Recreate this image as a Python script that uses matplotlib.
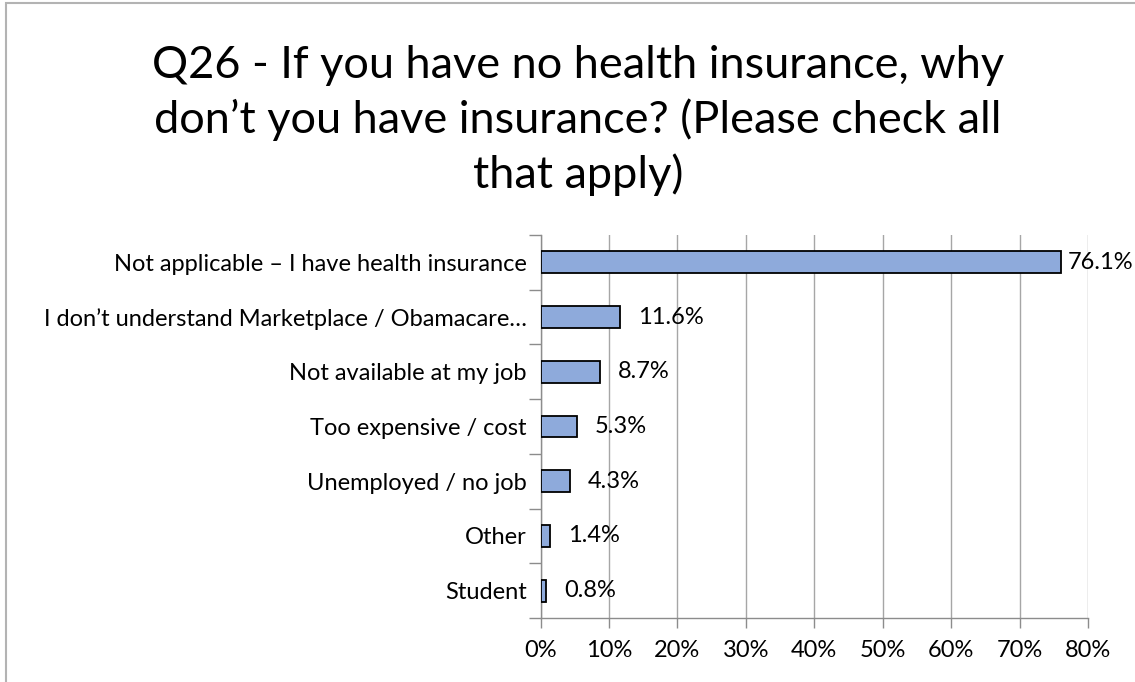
import matplotlib
matplotlib.use("Agg")
import matplotlib.pyplot as plt
from matplotlib.patches import Rectangle
import numpy as np

# Survey responses (share of respondents)
categories = [
    "Not applicable \u2013 I have health insurance",
    "I don\u2019t understand Marketplace / Obamacare\u2026",
    "Not available at my job",
    "Too expensive / cost",
    "Unemployed / no job",
    "Other",
    "Student",
]
shares = [76.1, 11.6, 8.7, 5.3, 4.3, 1.4, 0.8]
x_ticks = [0, 10, 20, 30, 40, 50, 60, 70, 80]
title_lines = [
    "Q26 - If you have no health insurance, why",
    "don\u2019t you have insurance? (Please check all",
    "that apply)",
]

FONT = "Lato"
FS = 17
W, H = 1135, 682
fig = plt.figure(figsize=(W / 100, H / 100), dpi=100)
fig.patch.set_facecolor("white")

# Chart-area frame
fig.add_artist(Rectangle((6 / W, -0.01), 1.05, 1 - 3 / H + 0.01, transform=fig.transFigure,
                         fill=False, edgecolor="#b3b3b3", linewidth=1.5))

ax = fig.add_axes([540.5 / W, 1 - 618 / H, (1088 - 540.5) / W, (618 - 235) / H])

y = np.arange(len(categories))
ax.barh(y, shares, height=0.4, color="#8eaadb", edgecolor="black", linewidth=1.3, zorder=3)

ax.set_xlim(0, 80)
ax.set_ylim(len(categories) - 0.5, -0.5)

ax.set_xticks(x_ticks)
ax.set_xticklabels([f"{v}%" for v in x_ticks], fontsize=FS, family=FONT)
ax.tick_params(axis="x", length=7, width=1, color="#8c8c8c", pad=9)

# Category ticks sit between bars; labels sit at bar centres
ax.set_yticks(np.arange(-0.5, len(categories)))
ax.set_yticklabels([])
ax.set_yticks(y, minor=True)
ax.set_yticklabels(categories, minor=True, fontsize=FS, family=FONT)
ax.tick_params(axis="y", which="major", length=9, width=1, color="#8c8c8c")
ax.tick_params(axis="y", which="minor", length=0, pad=10)

ax.grid(axis="x", color="#a6a6a6", linewidth=1, zorder=0)
for s in ("top", "right"):
    ax.spines[s].set_visible(False)
for s in ("left", "bottom"):
    ax.spines[s].set_color("#8c8c8c")
    ax.spines[s].set_linewidth(1)

# Value labels to the right of each bar, kept inside the chart area
labels = []
for yi, v in zip(y, shares):
    t = ax.annotate(f"{v}%", xy=(v, yi), xytext=(13, 0), textcoords="offset points",
                    va="center", ha="left", fontsize=FS, family=FONT, zorder=4)
    labels.append(t)

for i, line in enumerate(title_lines):
    fig.text(578 / W, 1 - (78 + 55 * i) / H, line, ha="center", va="baseline",
             fontsize=32.5, family=FONT)

fig.canvas.draw()
renderer = fig.canvas.get_renderer()
for t in labels:
    bb = t.get_window_extent(renderer)
    limit = W - 2
    if bb.x1 > limit:
        shift = (bb.x1 - limit) * 72 / fig.dpi
        ox, oy = t.xyann
        t.xyann = (max(ox - shift, 1.5), oy)

fig.savefig("out.png", dpi=100)
